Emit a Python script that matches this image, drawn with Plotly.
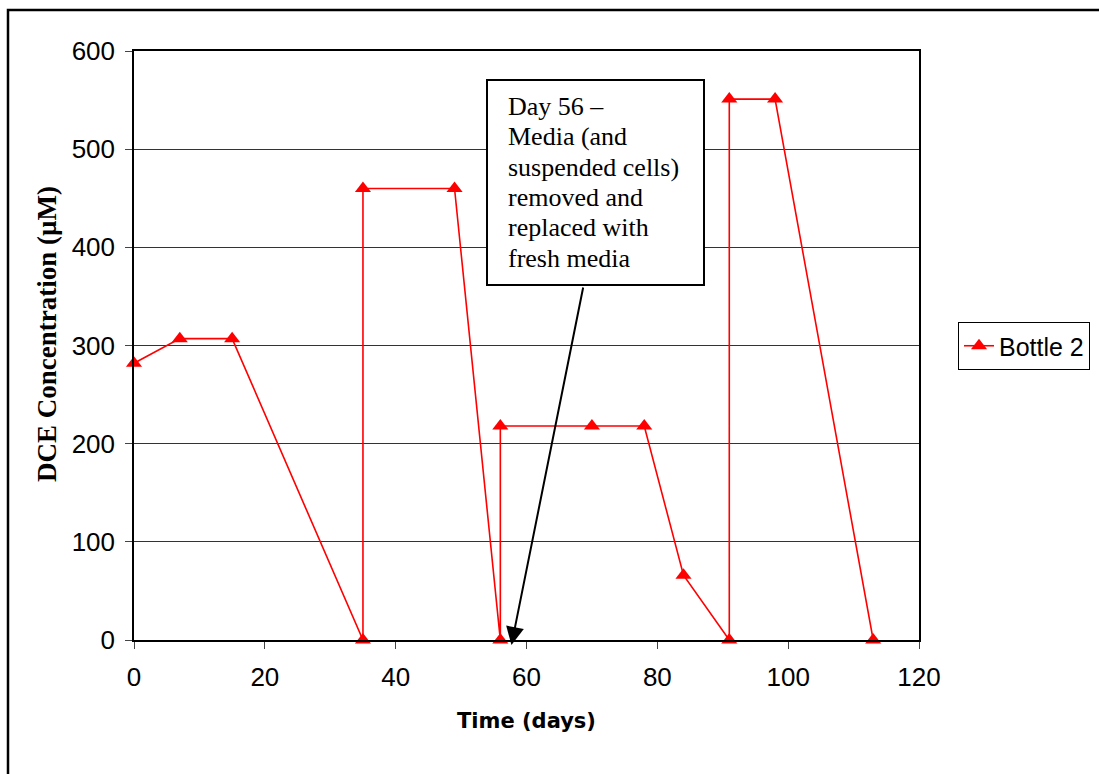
import plotly.graph_objects as go

# Bottle 2 DCE measurements (days, µM); repeated days mark respiking / media exchange
days = [0, 7, 15, 35, 35, 49, 56, 56, 70, 78, 84, 91, 91, 98, 113]
dce_um = [282, 307, 307, 0, 460, 460, 0, 218, 218, 218, 66, 0, 551, 551, 0]

x_ticks = [0, 20, 40, 60, 80, 100, 120]
y_ticks = [0, 100, 200, 300, 400, 500, 600]

note_lines = [
    "Day 56 \u2013",
    "Media (and",
    "suspended cells)",
    "removed and",
    "replaced with",
    "fresh media",
]
arrow_day = 57.7

W, H = 1099, 774
L, R, T, B = 134, 180, 51, 134
PW, PH = W - L - R, H - T - B


def px_x(p):
    return (p - L) / PW


def px_y(p):
    return (H - B - p) / PH


fig = go.Figure()
fig.add_trace(go.Scatter(
    x=days, y=dce_um, mode="lines+markers", name="Bottle 2",
    line=dict(color="#FF0000", width=1.6),
    marker=dict(symbol="triangle-up", size=14, color="#FF0000"),
    cliponaxis=False,
))

axis_font = dict(family="Arial, Liberation Sans, sans-serif", size=26, color="black")

fig.update_layout(
    width=W, height=H,
    margin=dict(l=L, r=R, t=T, b=B, autoexpand=False),
    paper_bgcolor="white", plot_bgcolor="white",
    showlegend=True,
    legend=dict(
        x=px_x(958), y=px_y(346), xanchor="left", yanchor="middle",
        bordercolor="black", borderwidth=1, bgcolor="white",
        font=dict(family="Arial, Liberation Sans, sans-serif", size=25, color="black"),
        itemwidth=30,
    ),
    xaxis=dict(
        range=[0, 120], tickvals=x_ticks, ticktext=[str(v) for v in x_ticks],
        showgrid=False, zeroline=False,
        showline=True, linecolor="black", linewidth=1.5, mirror=True,
        ticks="outside", ticklen=7, tickcolor="#444", tickfont=axis_font,
        ticklabelstandoff=6,
        title=dict(text="<b>Time (days)</b>", standoff=22,
                   font=dict(family="DejaVu Sans, Verdana, sans-serif", size=21, color="black")),
    ),
    yaxis=dict(
        range=[0, 600], tickvals=y_ticks, ticktext=[str(v) for v in y_ticks],
        showgrid=True, gridcolor="#333", gridwidth=1, zeroline=False,
        showline=True, linecolor="black", linewidth=1.5, mirror=True,
        ticks="outside", ticklen=7, tickcolor="#444", tickfont=axis_font,
        ticklabelstandoff=5,
    ),
)

# y-axis title
fig.add_annotation(
    xref="paper", yref="paper", x=px_x(47), y=px_y(334),
    xanchor="center", yanchor="middle", textangle=-90, showarrow=False,
    text="<b>DCE Concentration (\u00b5M)</b>",
    font=dict(family="Liberation Serif, Times New Roman, serif", size=27, color="black"),
)

# outer chart frame
fig.add_shape(type="rect", xref="paper", yref="paper",
              x0=px_x(8), x1=px_x(1120), y0=px_y(800), y1=px_y(10),
              line=dict(color="black", width=2.5), fillcolor="rgba(0,0,0,0)", layer="above")

# note box with one annotation per text line
fig.add_shape(type="rect", xref="paper", yref="paper",
              x0=px_x(487), x1=px_x(704), y0=px_y(285), y1=px_y(80),
              line=dict(color="black", width=2), fillcolor="white", layer="above")
for i, line in enumerate(note_lines):
    fig.add_annotation(
        xref="paper", yref="paper", x=px_x(506), y=px_y(106 + 30.5 * i),
        xanchor="left", yanchor="middle", align="left", showarrow=False,
        text=line,
        font=dict(family="Liberation Serif, Times New Roman, serif", size=26, color="black"),
    )

# arrow from the note to day 56
fig.add_annotation(
    xref="x", yref="paper", x=arrow_day, y=px_y(645), text="",
    showarrow=True, arrowhead=2, arrowsize=1.8, arrowwidth=2, arrowcolor="black",
    ax=584 - 512, ay=286 - 645,
)

fig.write_html("out.html")
